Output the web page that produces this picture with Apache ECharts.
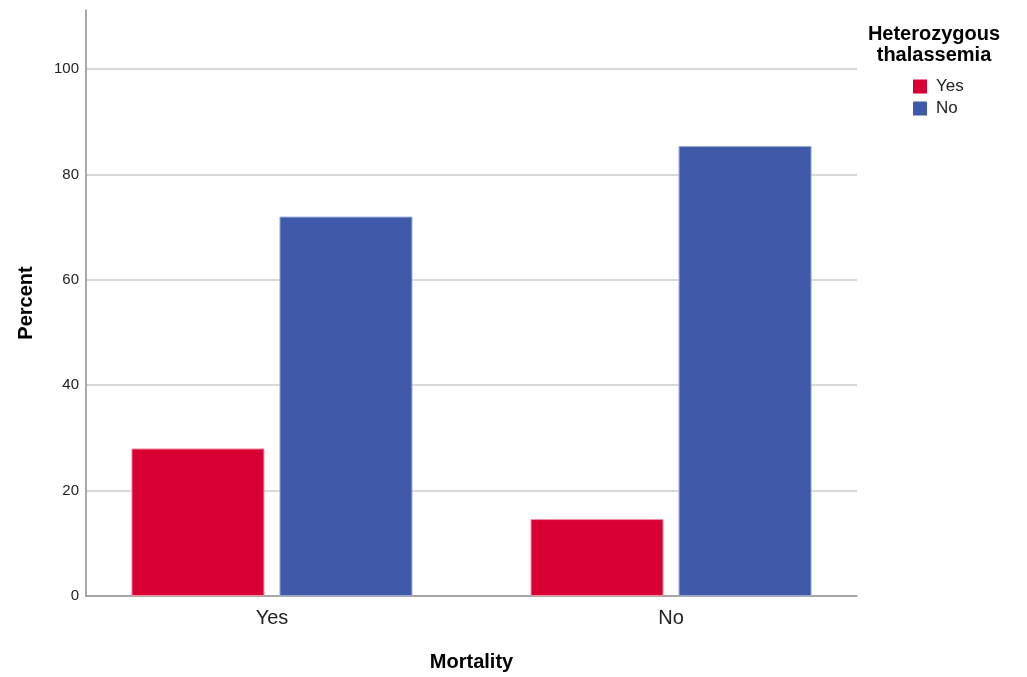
<!DOCTYPE html>
<html>
<head>
<meta charset="utf-8">
<script src="https://cdn.jsdelivr.net/npm/echarts@6/dist/echarts.min.js"></script>
<style>html,body{margin:0;padding:0;background:#fff;}#c{width:1027px;height:677px;}</style>
</head>
<body>
<div id="c"></div>
<script>
const categories = ['Yes', 'No'];
const legendTitle = 'Heterozygous\nthalassemia';
const seriesNames = ['Yes', 'No'];
const valuesYes = [28.0, 14.6];
const valuesNo = [72.0, 85.4];
const yTicks = [0, 20, 40, 60, 80, 100];
const gridValues = [20, 40, 60, 80, 100];

const FONT = 'Arial, "Liberation Sans", sans-serif';
const chart = echarts.init(document.getElementById('c'));
const toPts = arr => arr.map((v, i) => [i, v]);

chart.setOption({
  backgroundColor: '#fff',
  animation: false,
  textStyle: { fontFamily: FONT },
  grid: { left: 86, right: 170, top: 10, bottom: 81 },
  graphic: [{
    type: 'text', x: 934, y: 24,
    style: { text: legendTitle, font: 'bold 20px ' + FONT, fill: '#000', align: 'center', textAlign: 'center', lineHeight: 21 }
  }],
  legend: {
    orient: 'vertical', left: 908, top: 73, itemWidth: 14, itemHeight: 14, itemGap: 5,
    icon: 'rect', data: seriesNames,
    itemStyle: { borderWidth: 0 },
    textStyle: { fontSize: 17, color: '#222', fontFamily: FONT, lineHeight: 15, padding: [0, 0, 0, 4] }
  },
  xAxis: {
    type: 'value', min: -0.466, max: 1.466,
    name: 'Mortality', nameLocation: 'middle', nameGap: 56,
    nameTextStyle: { fontSize: 20, fontWeight: 'bold', color: '#000', fontFamily: FONT },
    axisLine: { show: true, onZero: false, lineStyle: { color: '#8c8c8c', width: 1.5 } },
    axisTick: { show: false },
    splitLine: { show: false },
    axisLabel: {
      customValues: [0, 1], margin: 12, fontSize: 20, color: '#222', fontFamily: FONT,
      formatter: v => categories[Math.round(v)] || ''
    }
  },
  yAxis: {
    type: 'value', min: 0, max: 111.2,
    name: 'Percent', nameLocation: 'middle', nameGap: 50, nameRotate: 90,
    nameTextStyle: { fontSize: 20, fontWeight: 'bold', color: '#000', fontFamily: FONT },
    axisLine: { show: true, onZero: false, lineStyle: { color: '#8c8c8c', width: 1.5 } },
    axisTick: { show: false, customValues: yTicks },
    splitLine: { show: false },
    axisLabel: { customValues: yTicks, margin: 7, fontSize: 15, color: '#222', fontFamily: FONT }
  },
  series: [
    {
      name: '_grid', type: 'line', data: [], z: 0, silent: true,
      markLine: {
        z: 0, silent: true, symbol: 'none', label: { show: false },
        lineStyle: { color: '#cccccc', width: 1.5, type: 'solid' },
        data: gridValues.map(v => ({ yAxis: v }))
      }
    },
    {
      name: seriesNames[0], type: 'bar', data: toPts(valuesYes), z: 3,
      barWidth: 133, barGap: '11.3%',
      itemStyle: { color: '#D80032', borderColor: '#F08FA5', borderWidth: 1 }
    },
    {
      name: seriesNames[1], type: 'bar', data: toPts(valuesNo), z: 3,
      barWidth: 133, barGap: '11.3%',
      itemStyle: { color: '#3F5AA8', borderColor: '#9AAAD8', borderWidth: 1 }
    }
  ]
});
</script>
</body>
</html>
